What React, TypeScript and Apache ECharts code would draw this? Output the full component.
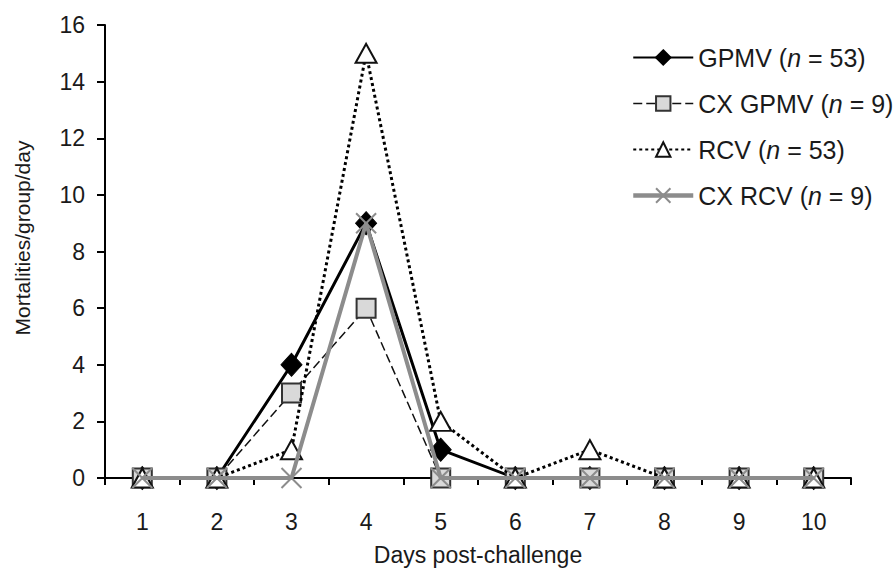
import React, { useEffect, useRef } from "react";
import * as echarts from "echarts";

const days = ["1", "2", "3", "4", "5", "6", "7", "8", "9", "10"];
const gpmv = [0, 0, 4, 9, 1, 0, 0, 0, 0, 0];
const cxGpmv = [0, 0, 3, 6, 0, 0, 0, 0, 0, 0];
const rcv = [0, 0, 1, 15, 2, 0, 1, 0, 0, 0];
const cxRcv = [0, 0, 0, 9, 0, 0, 0, 0, 0, 0];
const seriesNames = ["GPMV", "CX GPMV", "RCV", "CX RCV"];
const seriesN = ["53", "9", "53", "9"];
const yTicks = { min: 0, max: 16, interval: 2 };

const FONT = "'Liberation Sans', Arial, sans-serif";
const TXT = "#1a1a1a";

export default function App() {
  const ref = useRef<HTMLDivElement>(null);
  useEffect(() => {
    if (!ref.current) return;
    const chart = echarts.init(ref.current, undefined, { renderer: "svg" });
    const crossPath = "path://M0,0L20,20M20,0L0,20";
    const legendWidths = [2, 1.5, 2, 4.5];
    chart.setOption({
      animation: false,
      backgroundColor: "#ffffff",
      textStyle: { fontFamily: FONT },
      grid: {
        left: 105,
        right: 42,
        top: 25,
        bottom: 91,
        containLabel: false,
        outerBoundsMode: "none",
      },
      legend: {
        orient: "vertical",
        left: 626,
        top: 40,
        itemWidth: 60,
        itemHeight: 18,
        itemGap: 21,
        data: seriesNames.map((n, i) => ({ name: n, lineStyle: { width: legendWidths[i] } })),
        formatter: (name: string) => {
          const i = seriesNames.indexOf(name);
          return "{r|" + name + " (}{i|n}{r| = " + seriesN[i] + ")}";
        },
        textStyle: {
          color: TXT,
          fontSize: 25,
          fontFamily: FONT,
          rich: {
            r: { fontSize: 25, color: TXT, fontFamily: FONT },
            i: { fontSize: 25, color: TXT, fontStyle: "italic", fontFamily: FONT },
          },
        },
      },
      graphic: [
        {
          type: "text",
          x: 22,
          y: 238,
          rotation: Math.PI / 2,
          style: {
            text: "Mortalities/group/day",
            fontSize: 21,
            fontFamily: FONT,
            fill: TXT,
            textAlign: "center",
            textVerticalAlign: "middle",
          },
        },
      ],
      xAxis: {
        type: "category",
        data: days,
        boundaryGap: true,
        name: "Days post-challenge",
        nameLocation: "middle",
        nameGap: 65,
        nameTextStyle: { fontSize: 23, color: TXT, fontFamily: FONT },
        axisLine: { lineStyle: { color: "#000", width: 2 } },
        axisTick: { show: true, inside: false, length: 7, lineStyle: { color: "#000", width: 2 } },
        axisLabel: { fontSize: 23, color: TXT, margin: 32, fontFamily: FONT },
        splitLine: { show: false },
      },
      yAxis: {
        type: "value",
        min: yTicks.min,
        max: yTicks.max,
        interval: yTicks.interval,
        axisLine: { show: true, lineStyle: { color: "#000", width: 2 } },
        axisTick: { show: true, inside: false, length: 8, lineStyle: { color: "#000", width: 2 } },
        axisLabel: { fontSize: 23, color: TXT, margin: 20, fontFamily: FONT },
        splitLine: { show: false },
      },
      series: [
        {
          name: seriesNames[0],
          type: "line",
          data: gpmv,
          symbol: "diamond",
          symbolSize: [21, 23],
          z: 2,
          lineStyle: { color: "#000", width: 3, type: "solid" },
          itemStyle: { color: "#000", borderColor: "#000", borderWidth: 1 },
        },
        {
          name: seriesNames[1],
          type: "line",
          data: cxGpmv,
          symbol: "rect",
          symbolSize: 19,
          z: 3,
          lineStyle: { color: "#111", width: 1.5, type: [9, 4] },
          itemStyle: { color: "#d9d9d9", borderColor: "#333", borderWidth: 2 },
        },
        {
          name: seriesNames[2],
          type: "line",
          data: rcv,
          symbol: "triangle",
          symbolSize: [21, 19],
          z: 4,
          lineStyle: { color: "#000", width: 3, type: [3, 3] },
          itemStyle: { color: "#ffffff", borderColor: "#111", borderWidth: 2 },
        },
        {
          name: seriesNames[3],
          type: "line",
          data: cxRcv,
          symbol: crossPath,
          symbolSize: 20,
          z: 5,
          lineStyle: { color: "#8c8c8c", width: 4, type: "solid" },
          itemStyle: { color: "#8c8c8c", borderColor: "#8c8c8c", borderWidth: 2 },
        },
      ],
    });
    return () => chart.dispose();
  }, []);
  return <div ref={ref} style={{ width: 893, height: 569, position: "absolute", left: 0, top: 0 }} />;
}
